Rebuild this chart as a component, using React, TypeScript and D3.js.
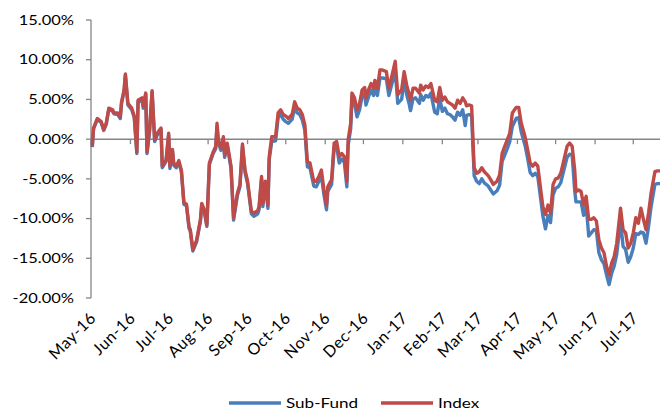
import React from 'react';
import * as d3 from 'd3';

const width = 663;
const height = 412;

const dates = [
  '2016-05-02', '2016-05-03', '2016-05-06', '2016-05-09', '2016-05-11', '2016-05-13', '2016-05-15', '2016-05-18',
  '2016-05-19', '2016-05-22', '2016-05-24', '2016-05-25', '2016-05-27', '2016-05-28', '2016-05-30', '2016-06-02',
  '2016-06-04', '2016-06-06', '2016-06-07', '2016-06-10', '2016-06-11', '2016-06-13', '2016-06-14', '2016-06-16',
  '2016-06-18', '2016-06-20', '2016-06-22', '2016-06-25', '2016-06-26', '2016-06-29', '2016-07-01', '2016-07-02',
  '2016-07-04', '2016-07-05', '2016-07-07', '2016-07-09', '2016-07-11', '2016-07-13', '2016-07-15', '2016-07-17',
  '2016-07-18', '2016-07-20', '2016-07-23', '2016-07-26', '2016-07-27', '2016-07-29', '2016-07-31', '2016-08-02',
  '2016-08-05', '2016-08-07', '2016-08-08', '2016-08-09', '2016-08-11', '2016-08-13', '2016-08-14', '2016-08-16',
  '2016-08-19', '2016-08-21', '2016-08-24', '2016-08-26', '2016-08-28', '2016-08-30', '2016-09-01', '2016-09-04',
  '2016-09-06', '2016-09-09', '2016-09-10', '2016-09-12', '2016-09-13', '2016-09-15', '2016-09-17', '2016-09-18',
  '2016-09-20', '2016-09-23', '2016-09-25', '2016-09-27', '2016-09-29', '2016-10-01', '2016-10-03', '2016-10-06',
  '2016-10-08', '2016-10-10', '2016-10-12', '2016-10-14', '2016-10-16', '2016-10-18', '2016-10-20', '2016-10-23',
  '2016-10-25', '2016-10-27', '2016-10-29', '2016-10-31', '2016-11-02', '2016-11-03', '2016-11-06', '2016-11-08',
  '2016-11-10', '2016-11-12', '2016-11-14', '2016-11-16', '2016-11-18', '2016-11-19', '2016-11-21', '2016-11-22',
  '2016-11-24', '2016-11-26', '2016-11-28', '2016-11-30', '2016-12-02', '2016-12-03', '2016-12-05', '2016-12-07',
  '2016-12-09', '2016-12-10', '2016-12-12', '2016-12-14', '2016-12-16', '2016-12-19', '2016-12-21', '2016-12-23',
  '2016-12-26', '2016-12-28', '2016-12-31', '2017-01-02', '2017-01-04', '2017-01-06', '2017-01-07', '2017-01-09',
  '2017-01-11', '2017-01-14', '2017-01-15', '2017-01-17', '2017-01-19', '2017-01-21', '2017-01-23', '2017-01-26',
  '2017-01-28', '2017-01-30', '2017-02-01', '2017-02-03', '2017-02-05', '2017-02-07', '2017-02-09', '2017-02-11',
  '2017-02-13', '2017-02-15', '2017-02-17', '2017-02-19', '2017-02-20', '2017-02-22', '2017-02-24', '2017-02-26',
  '2017-02-28', '2017-03-02', '2017-03-04', '2017-03-06', '2017-03-09', '2017-03-11', '2017-03-13', '2017-03-16',
  '2017-03-18', '2017-03-20', '2017-03-22', '2017-03-24', '2017-03-26', '2017-03-28', '2017-03-31', '2017-04-02',
  '2017-04-04', '2017-04-07', '2017-04-09', '2017-04-11', '2017-04-13', '2017-04-15', '2017-04-17', '2017-04-19',
  '2017-04-21', '2017-04-23', '2017-04-25', '2017-04-27', '2017-04-29', '2017-05-01', '2017-05-03', '2017-05-05',
  '2017-05-07', '2017-05-10', '2017-05-12', '2017-05-14', '2017-05-16', '2017-05-17', '2017-05-19', '2017-05-21',
  '2017-05-23', '2017-05-25', '2017-05-27', '2017-05-29', '2017-05-31', '2017-06-02', '2017-06-04', '2017-06-06',
  '2017-06-08', '2017-06-10', '2017-06-12', '2017-06-14', '2017-06-16', '2017-06-18', '2017-06-21', '2017-06-23',
  '2017-06-25', '2017-06-27', '2017-06-29', '2017-07-01', '2017-07-03', '2017-07-05', '2017-07-07', '2017-07-09',
  '2017-07-11', '2017-07-13', '2017-07-15', '2017-07-18', '2017-07-20', '2017-07-22',
];

// cumulative return, %
const indexValues = [
  -0.9, 1.4, 2.6, 2.2, 1.2, 2.0, 3.9, 3.7, 3.3, 3.3, 2.8, 4.7, 6.2, 8.2, 4.5, 3.9,
  2.9, -1.6, 4.9, 5.2, 4.2, 5.8, -1.6, 1.2, 6.1, -0.1, 0.75, 1.4, -3.4, -2.6, 0.75, -3.4,
  -1.3, -3.0, -3.4, -2.7, -3.9, -8.0, -8.2, -11.0, -11.4, -13.9, -12.7, -10.1, -8.1, -8.9, -10.8, -3.0,
  -1.6, -0.9, 2.0, -0.1, -1.1, 0.3, -2.0, -0.5, -3.4, -9.9, -6.8, -5.7, -0.6, -3.9, -5.3, -9.1,
  -9.3, -9.0, -8.5, -4.7, -8.1, -5.3, -8.3, -2.2, 0.3, 0.3, 3.3, 3.7, 3.1, 2.9, 2.6, 3.1,
  4.7, 3.9, 3.7, 3.1, 1.8, -2.9, -3.0, -5.3, -5.3, -4.7, -3.9, -6.4, -8.3, -6.0, -5.1, -0.5,
  -0.3, -2.2, -1.8, -2.2, -5.3, -0.1, 2.0, 5.8, 5.2, 3.7, 4.5, 6.2, 6.5, 5.2, 6.2, 7.0,
  6.4, 7.4, 6.4, 8.7, 8.7, 8.5, 6.4, 7.7, 9.8, 5.6, 6.2, 8.5, 6.8, 5.6, 4.9, 6.4,
  6.4, 5.8, 6.8, 6.2, 6.7, 6.5, 7.0, 4.9, 4.7, 6.5, 4.9, 5.3, 4.7, 4.5, 4.3, 3.9,
  4.9, 4.5, 5.2, 4.7, 4.2, 4.3, 4.2, -3.6, -4.3, -4.1, -3.6, -4.1, -4.6, -5.1, -5.7, -5.3,
  -4.5, -1.8, -0.9, -0.1, 0.75, 3.3, 4.0, 4.0, 2.0, 0.3, -1.3, -3.0, -3.4, -3.0, -3.4, -6.0,
  -8.5, -9.5, -8.3, -9.3, -5.7, -5.0, -4.9, -4.3, -3.0, -0.9, -0.5, -0.9, -3.9, -6.6, -6.4, -6.6,
  -8.3, -7.2, -10.1, -10.1, -9.9, -10.3, -12.7, -13.7, -14.3, -16.0, -17.1, -15.6, -14.8, -13.1, -8.7, -11.4,
  -11.8, -13.7, -13.1, -11.8, -9.9, -10.6, -8.7, -10.1, -11.4, -9.3, -6.8, -4.1, -4.0, -4.0,
];

const subFundValues = [
  -1.0, 1.3, 2.5, 2.1, 1.1, 1.9, 3.8, 3.5, 3.2, 3.1, 2.6, 4.5, 6.0, 8.0, 4.3, 3.7,
  2.7, -1.8, 4.7, 5.0, 3.9, 5.6, -1.8, 1.0, 5.9, -0.3, 0.5, 1.2, -3.6, -2.8, 0.5, -3.7,
  -1.5, -3.3, -3.6, -2.9, -4.1, -8.2, -8.4, -11.2, -11.6, -14.1, -12.9, -10.3, -8.3, -9.1, -11.0, -3.2,
  -1.8, -1.2, 1.6, -0.4, -1.4, 0.0, -2.3, -0.8, -3.7, -10.2, -7.1, -6.0, -0.9, -4.2, -5.6, -9.4,
  -9.7, -9.4, -8.9, -5.0, -8.5, -5.6, -8.7, -2.6, -0.3, -0.2, 2.7, 3.1, 2.5, 2.2, 2.0, 2.5,
  4.0, 3.3, 3.1, 2.4, 1.1, -3.5, -3.6, -5.9, -6.0, -5.3, -4.6, -7.0, -8.9, -6.6, -5.7, -1.1,
  -0.9, -3.0, -2.5, -2.9, -6.0, -0.8, 1.3, 5.1, 4.5, 2.8, 3.7, 5.4, 5.7, 4.3, 5.3, 6.2,
  5.5, 6.5, 5.5, 7.7, 7.7, 7.6, 5.5, 6.7, 8.6, 4.5, 5.0, 7.4, 5.6, 4.4, 3.6, 5.1,
  5.2, 4.5, 5.6, 4.9, 5.5, 5.3, 5.8, 3.4, 3.2, 5.1, 3.5, 3.9, 3.2, 3.1, 2.8, 2.4,
  3.4, 3.0, 3.7, 1.7, 3.0, 3.1, 3.0, -4.6, -5.3, -5.6, -5.0, -5.5, -5.9, -6.4, -6.9, -6.5,
  -5.8, -2.8, -2.0, -1.2, -0.3, 1.6, 2.6, 2.7, 0.9, -0.8, -2.4, -4.2, -4.6, -4.3, -4.7, -7.2,
  -9.7, -11.3, -9.6, -10.5, -7.0, -6.2, -6.0, -5.5, -4.2, -2.3, -1.9, -2.0, -6.5, -7.9, -7.9, -7.9,
  -9.6, -8.3, -12.2, -11.8, -11.4, -11.5, -14.3, -15.2, -15.7, -17.1, -18.3, -16.9, -16.0, -14.5, -10.3, -13.5,
  -13.9, -15.5, -14.8, -13.7, -11.9, -12.0, -11.7, -11.8, -13.1, -11.0, -8.5, -5.7, -5.6, -5.6,
];

const yTicks = [15, 10, 5, 0, -5, -10, -15, -20];
const seriesNames = ['Sub-Fund', 'Index'];
const seriesColors = ['#4A7EBB', '#BE4B48'];

const parse = d3.timeParse('%Y-%m-%d');
const fmtMonth = d3.timeFormat('%b-%y');
const stretch = 1.22;
const font = 'Lato, Calibri, sans-serif';

const x = d3.scaleTime()
  .domain([parse('2016-05-01'), parse('2017-07-22')])
  .range([91, 660]);

const y = d3.scaleLinear()
  .domain([-20, 15])
  .range([298, 20]);

const monthTicks = d3.timeMonth.range(parse('2016-05-01'), parse('2017-07-02'));

const makeLine = (values) => d3.line()
  .x((d, i) => x(parse(dates[i])))
  .y(d => y(d))(values);

const App = () => {
  return (
    <svg width={width} height={height} style={{ position: 'absolute', left: 0, top: 0, background: '#fff' }}>
      {/* y axis */}
      <line x1={91} x2={91} y1={y(15)} y2={y(-20)} stroke="#868686" strokeWidth={1.3} />
      {yTicks.map(t => (
        <g key={t}>
          <line x1={86} x2={91} y1={y(t)} y2={y(t)} stroke="#868686" strokeWidth={1.3} />
          <text
            transform={`translate(74, ${y(t)}) scale(${stretch}, 1)`}
            textAnchor="end"
            dy="0.35em"
            fontFamily={font}
            fontSize={13.5}
            fill="#000"
          >
            {`${t.toFixed(2)}%`}
          </text>
        </g>
      ))}

      {/* zero line + month ticks */}
      <line x1={91} x2={660} y1={y(0)} y2={y(0)} stroke="#868686" strokeWidth={1.5} />
      {monthTicks.map(m => (
        <g key={m.getTime()}>
          <line x1={x(m)} x2={x(m)} y1={y(0)} y2={y(0) + 5} stroke="#868686" strokeWidth={1.3} />
          <text
            transform={`translate(${x(m) + 6}, 319) rotate(-45)`}
            textAnchor="end"
            fontFamily={font}
            fontSize={16}
            letterSpacing={0.6}
            fill="#000"
          >
            {fmtMonth(m)}
          </text>
        </g>
      ))}

      {/* series */}
      {[subFundValues, indexValues].map((vals, i) => (
        <path
          key={seriesNames[i]}
          d={makeLine(vals)}
          fill="none"
          stroke={seriesColors[i]}
          strokeWidth={3.4}
          strokeLinejoin="round"
        />
      ))}

      {/* legend */}
      {seriesNames.map((name, i) => {
        const lx = i === 0 ? 229 : 381;
        return (
          <g key={name}>
            <line x1={lx} x2={lx + 52} y1={403} y2={403} stroke={seriesColors[i]} strokeWidth={3.4} />
            <text
              transform={`translate(${lx + 57}, 403) scale(${stretch}, 1)`}
              dy="0.35em"
              fontFamily={font}
              fontSize={14}
              fill="#000"
            >
              {name}
            </text>
          </g>
        );
      })}
    </svg>
  );
};

export default App;
